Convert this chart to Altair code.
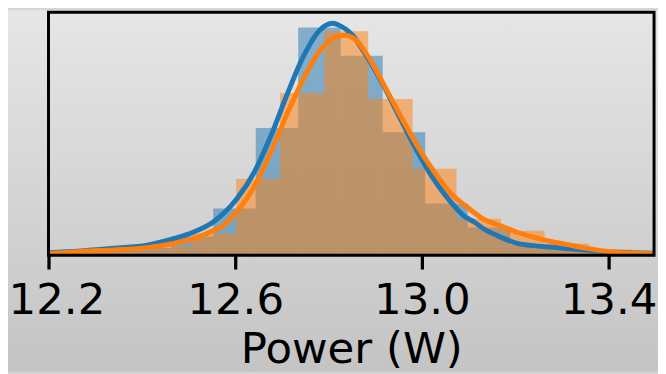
import altair as alt
import pandas as pd

# ---- data ----
series_names = ["A", "B"]
series_colors = ["#1f77b4", "#ff7f0e"]

blue_bin_edges = [12.191, 12.281, 12.372, 12.463, 12.553, 12.644, 12.735, 12.826,
                  12.916, 13.007, 13.098, 13.189, 13.279, 13.370, 13.461]
blue_density = [0.025, 0.05, 0.094, 0.244, 0.606, 1.653, 2.956, 2.590, 1.598,
                0.673, 0.360, 0.131, 0.069, 0.044]

orange_bin_edges = [12.129, 12.224, 12.318, 12.413, 12.507, 12.602, 12.696, 12.791,
                    12.885, 12.980, 13.074, 13.169, 13.263, 13.358, 13.452, 13.547]
orange_density = [0.019, 0.031, 0.056, 0.119, 0.281, 0.994, 2.103, 2.910, 2.028,
                  1.123, 0.473, 0.319, 0.153, 0.075, 0.025]

blue_kde_x = [12.200, 12.270, 12.341, 12.412, 12.468, 12.510, 12.553, 12.604, 12.640, 12.675,
              12.710, 12.745, 12.781, 12.809, 12.823, 12.851, 12.879, 12.915, 12.950, 12.985,
              13.021, 13.056, 13.091, 13.112, 13.133, 13.169, 13.204, 13.239, 13.274, 13.310,
              13.345, 13.380, 13.415, 13.451, 13.497]
blue_kde_y = [0.031, 0.056, 0.090, 0.131, 0.215, 0.298, 0.431, 0.735, 1.069, 1.528,
              2.069, 2.569, 2.923, 3.013, 2.985, 2.860, 2.610, 2.235, 1.819, 1.403,
              1.028, 0.735, 0.506, 0.431, 0.340, 0.235, 0.153, 0.125, 0.106, 0.088,
              0.069, 0.050, 0.040, 0.031, 0.025]

orange_kde_x = [12.200, 12.270, 12.341, 12.412, 12.468, 12.510, 12.553, 12.569, 12.604, 12.640,
                12.675, 12.710, 12.745, 12.781, 12.809, 12.833, 12.858, 12.886, 12.922, 12.957,
                12.992, 13.028, 13.063, 13.098, 13.133, 13.169, 13.204, 13.239, 13.274, 13.310,
                13.345, 13.380, 13.415, 13.451, 13.497]
orange_kde_y = [0.019, 0.050, 0.069, 0.098, 0.153, 0.215, 0.319, 0.360, 0.569, 0.881,
                1.319, 1.819, 2.278, 2.653, 2.819, 2.856, 2.798, 2.569, 2.173, 1.778,
                1.403, 1.069, 0.798, 0.619, 0.465, 0.381, 0.298, 0.235, 0.181, 0.140,
                0.098, 0.063, 0.040, 0.028, 0.019]

x_ticks = [12.2, 12.6, 13.0, 13.4]
x_domain = [12.2, 13.4974]
y_domain = [0, 3.156]

# ---- tables ----
rows = []
for name, edges, dens in [(series_names[0], blue_bin_edges, blue_density),
                          (series_names[1], orange_bin_edges, orange_density)]:
    for i, d in enumerate(dens):
        rows.append({"series": name, "x0": edges[i], "x1": edges[i + 1], "d": d})
bars_df = pd.DataFrame(rows)

blue_kde = pd.DataFrame({"x": blue_kde_x, "y": blue_kde_y})
orange_kde = pd.DataFrame({"x": orange_kde_x, "y": orange_kde_y})

W, H = 613, 246
xscale = alt.Scale(domain=x_domain, nice=False, zero=False)
yscale = alt.Scale(domain=y_domain, nice=False)
color_scale = alt.Scale(domain=series_names, range=series_colors)

dummy = pd.DataFrame({"a": [0]})

gradient = alt.LinearGradient(
    gradient="linear",
    stops=[alt.GradientStop(color="#e6e6e6", offset=0),
           alt.GradientStop(color="#c4c4c4", offset=1)],
    x1=0, x2=0, y1=0, y2=1,
)

bg = alt.Chart(dummy).mark_rect(fill=gradient).encode(
    x=alt.value(-41), x2=alt.value(W + 4), y=alt.value(-2), y2=alt.value(364)
)

x_axis = alt.Axis(
    values=x_ticks, format=".1f", title="Power (W)", domain=False, grid=False,
    tickColor="black", tickWidth=3.3, tickSize=14,
    labelFont="DejaVu Sans", labelFontSize=44, labelColor="black", labelPadding=10,
    labelFlush=False, labelOverlap=False,
    labelOffset={"expr": "datum.value < 12.3 ? 8 : 0"},
    titleFont="DejaVu Sans", titleFontSize=44, titleFontWeight="normal",
    titleColor="black", titlePadding=6, zindex=2,
)

bars = alt.Chart(bars_df).mark_rect(clip=True, opacity=0.5).encode(
    x=alt.X("x0:Q", scale=xscale, axis=x_axis),
    x2="x1:Q",
    y=alt.Y("d:Q", scale=yscale, axis=None),
    y2=alt.datum(0),
    color=alt.Color("series:N", scale=color_scale, legend=None),
)

blue_line = alt.Chart(blue_kde).mark_line(
    clip=True, strokeWidth=5, color=series_colors[0], interpolate="monotone"
).encode(x=alt.X("x:Q", scale=xscale), y=alt.Y("y:Q", scale=yscale))

orange_line = alt.Chart(orange_kde).mark_line(
    clip=True, strokeWidth=5, color=series_colors[1], interpolate="monotone"
).encode(x=alt.X("x:Q", scale=xscale), y=alt.Y("y:Q", scale=yscale))

frame = alt.Chart(dummy).mark_rect(fillOpacity=0, stroke="black", strokeWidth=3).encode(
    x=alt.value(0), x2=alt.value(W), y=alt.value(0), y2=alt.value(H)
)

chart = alt.layer(bg, bars, blue_line, orange_line, frame).properties(
    width=W, height=H,
    autosize=alt.AutoSizeParams(type="none"),
    padding={"left": 41, "top": 2, "right": 4, "bottom": 118},
    background="#d6d6d6",
).configure_view(strokeWidth=0)

chart.save("out.html", embed_options={"renderer": "svg", "actions": False})
